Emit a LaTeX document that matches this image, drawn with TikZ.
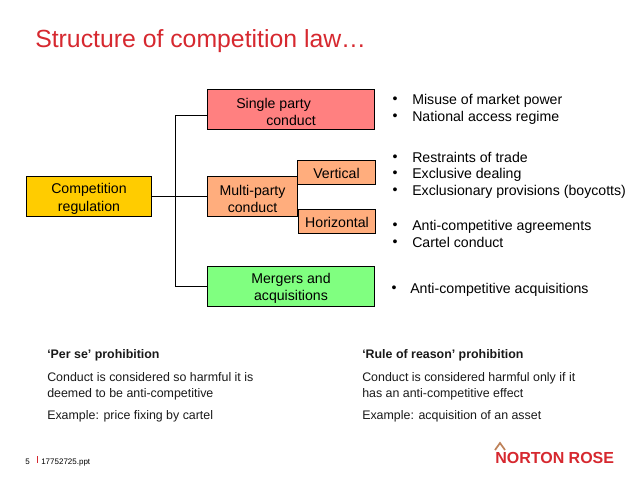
\documentclass[tikz,border=0pt]{standalone}
\usepackage{fontspec}
\setmainfont{Liberation Sans}
\usepackage{xcolor}
\definecolor{nrred}{RGB}{214,40,47}
\definecolor{nrtan}{RGB}{190,130,90}
\definecolor{boxyellow}{RGB}{255,204,0}
\definecolor{boxred}{RGB}{255,128,128}
\definecolor{boxorange}{RGB}{255,173,125}
\definecolor{boxgreen}{RGB}{128,255,128}
\newcommand{\boxstrut}{\rule{0pt}{11pt}}
\tikzset{
    chartbox/.style={draw=black,line width=0.75pt,inner sep=0pt,align=center,font=\fontsize{10.6}{13.2}\selectfont},
    oneline/.style={chartbox,execute at begin node=\rule{0pt}{9pt}},
    bullettext/.style={anchor=base west,inner sep=0pt,font=\fontsize{10.6}{13}\selectfont},
    bulletdot/.style={anchor=base,inner sep=0pt,font=\fontsize{10.6}{13}\selectfont},
    notetext/.style={anchor=base west,inner sep=0pt,font=\fontsize{9.3}{11}\selectfont,text=black!90},
}
\begin{document}
\begin{tikzpicture}[x=0.75pt,y=0.75pt,yscale=-1,xscale=1]
    \useasboundingbox (0,0) rectangle (638,479);

    % Title
    \node (title) [anchor=base west,inner sep=0pt,font=\fontsize{18.6}{22}\selectfont,text=nrred] at (35,47) {Structure of competition law…};

    % Boxes
    \node (comp) [chartbox,fill=boxyellow,minimum width=93.75pt,minimum height=30.4pt] at (89,196.7) {\boxstrut Competition\\regulation};
    \node (single) [chartbox,fill=boxred,minimum width=125.25pt,minimum height=30.4pt,align=left] at (291,109.7) {\boxstrut Single party\\\hspace*{22.5pt}conduct\hspace*{22.5pt}};
    \node (multi) [chartbox,fill=boxorange,minimum width=67.5pt,minimum height=30.4pt] at (252.5,196.7) {\boxstrut Multi-party\\conduct};
    \node (vert) [oneline,fill=boxorange,minimum width=58.5pt,minimum height=18pt] at (336.5,172.5) {Vertical};
    \node (horiz) [oneline,fill=boxorange,minimum width=57.75pt,minimum height=18pt] at (337,221.5) {Horizontal};
    \node (merge) [chartbox,fill=boxgreen,minimum width=125.25pt,minimum height=30pt] at (291,286.2) {\boxstrut Mergers and\\acquisitions};

    % Connectors
    \coordinate (trunktop) at (175.5,115);
    \coordinate (trunkbot) at (175.5,286.2);
    \draw [line width=0.75pt] (comp.east) -- (multi.west);
    \draw [line width=0.75pt] (single.west |- trunktop) -- (trunktop) -- (trunkbot) -- (merge.west);

    % Bullet lists
    \foreach \nm/\yy/\txt in {a/104/Misuse of market power,b/121/National access regime,c/162/Restraints of trade,d/178/Exclusive dealing,e/195/Exclusionary provisions (boycotts),f/230/Anti-competitive agreements,g/247/Cartel conduct}{
        \node (dot\nm) [bulletdot] at (395,\yy-1) {•};
        \node (item\nm) [bullettext] at (412,\yy) {\txt};
    }
    \node (doth) [bulletdot] at (394,292) {•};
    \node (itemh) [bullettext] at (410,293) {Anti-competitive acquisitions};

    % Notes on the left
    \node (perse) [notetext,font=\fontsize{9.3}{11}\selectfont\bfseries] at (47,358) {‘Per se’ prohibition};
    \node (persea) [notetext] at (47,381) {Conduct is considered so harmful it is};
    \node (perseb) [notetext] at (47,397) {deemed to be anti-competitive};
    \node (persec) [notetext] at (47,419) {Example: price fixing by cartel};

    % Notes on the right
    \node (reason) [notetext,font=\fontsize{9.3}{11}\selectfont\bfseries] at (362,358) {‘Rule of reason’ prohibition};
    \node (reasona) [notetext] at (362,381) {Conduct is considered harmful only if it};
    \node (reasonb) [notetext] at (362,397) {has an anti-competitive effect};
    \node (reasonc) [notetext] at (362,419) {Example: acquisition of an asset};

    % Footer
    \node (pageno) [anchor=base west,inner sep=0pt,font=\fontsize{6}{7}\selectfont] at (25,464) {5};
    \draw [color=nrred,line width=0.75pt] (37,456) -- (37,463);
    \node (filename) [anchor=base west,inner sep=0pt,font=\fontsize{6}{7}\selectfont] at (41,464) {17752725.ppt};

    % Logo
    \node (logo) [anchor=base west,inner sep=0pt,font=\fontsize{12}{14}\selectfont\bfseries,text=nrred] at (495,463) {NORTON ROSE};
    \draw [color=nrtan,line width=1.3pt] (495,450) -- (500,443) -- (505,450);
\end{tikzpicture}
\end{document}
